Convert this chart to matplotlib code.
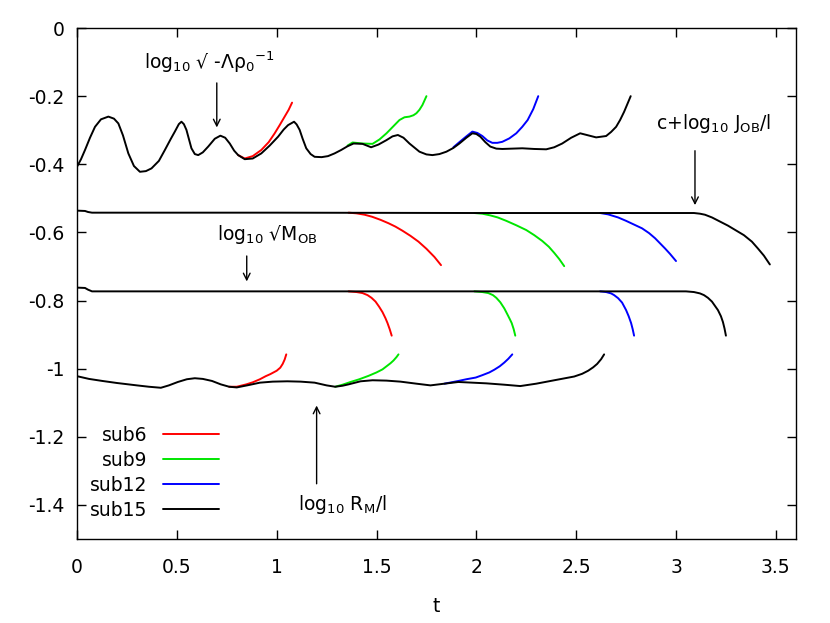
import numpy as np
import matplotlib
matplotlib.use("Agg")
import matplotlib.pyplot as plt

plt.rcParams['font.family'] = ['DejaVu Sans']
plt.rcParams['mathtext.default'] = 'regular'

# top curve: log10 sqrt(-Lambda rho0^-1)
topT15 = [0.0, 0.02, 0.04, 0.065, 0.09, 0.12, 0.157, 0.185, 0.207, 0.23, 0.257, 0.285, 0.315, 0.345, 0.373,
          0.41, 0.44, 0.47, 0.49, 0.51, 0.523, 0.535, 0.548, 0.56, 0.573, 0.59, 0.607, 0.63, 0.657, 0.69,
          0.718, 0.742, 0.765, 0.787, 0.807, 0.84, 0.88, 0.923, 0.965, 1.007, 1.035, 1.057, 1.087, 1.10, 1.115,
          1.13, 1.148, 1.17, 1.19, 1.225, 1.257, 1.29, 1.323, 1.355, 1.385, 1.43, 1.473, 1.51, 1.55, 1.58,
          1.607, 1.635, 1.665, 1.715, 1.75, 1.78, 1.815, 1.85, 1.885, 1.915, 1.95, 1.98, 2.0, 2.02, 2.045,
          2.07, 2.1, 2.13, 2.18, 2.23, 2.29, 2.35, 2.39, 2.43, 2.475, 2.52, 2.56, 2.6, 2.65, 2.675,
          2.70, 2.72, 2.74, 2.773]
topY15 = [-0.407, -0.385, -0.358, -0.322, -0.29, -0.268, -0.260, -0.266, -0.28, -0.315, -0.368, -0.405, -0.422, -0.42, -0.412,
          -0.39, -0.358, -0.325, -0.304, -0.282, -0.275, -0.282, -0.299, -0.325, -0.353, -0.37, -0.373, -0.365, -0.348, -0.325,
          -0.316, -0.322, -0.339, -0.36, -0.373, -0.385, -0.383, -0.368, -0.345, -0.319, -0.298, -0.285, -0.275, -0.283, -0.299,
          -0.325, -0.353, -0.37, -0.378, -0.379, -0.376, -0.368, -0.358, -0.347, -0.339, -0.34, -0.35, -0.342, -0.329, -0.318,
          -0.314, -0.322, -0.339, -0.363, -0.371, -0.373, -0.37, -0.363, -0.352, -0.339, -0.322, -0.309, -0.311, -0.319, -0.335,
          -0.348, -0.354, -0.355, -0.354, -0.353, -0.355, -0.356, -0.35, -0.339, -0.322, -0.309, -0.315, -0.321, -0.317, -0.305,
          -0.29, -0.27, -0.246, -0.20]
topT6 = [0.807, 0.84, 0.88, 0.923, 0.96, 0.99, 1.015, 1.04, 1.06, 1.077]
topY6 = [-0.373, -0.383, -0.376, -0.358, -0.335, -0.309, -0.285, -0.26, -0.24, -0.219]
topT9 = [1.355, 1.38, 1.43, 1.48, 1.515, 1.55, 1.585, 1.615, 1.64, 1.665, 1.685, 1.70, 1.715, 1.73, 1.75]
topY9 = [-0.345, -0.336, -0.339, -0.34, -0.327, -0.309, -0.288, -0.27, -0.262, -0.26, -0.256, -0.25, -0.24, -0.226, -0.20]
topT12 = [1.885, 1.915, 1.95, 1.98, 2.005, 2.03, 2.055, 2.08, 2.105, 2.13, 2.165, 2.2, 2.23, 2.257, 2.285, 2.31]
topY12 = [-0.35, -0.335, -0.318, -0.304, -0.308, -0.317, -0.33, -0.337, -0.337, -0.334, -0.324, -0.309, -0.29, -0.27, -0.238, -0.20]

# c + log10 J_OB / l
jT15 = [0.0, 0.04, 0.055, 0.075, 1.0, 2.0, 3.0, 3.09, 3.12, 3.145, 3.18, 3.22, 3.26, 3.30, 3.34, 3.38, 3.41, 3.44, 3.47]
jY15 = [-0.536, -0.537, -0.54, -0.542, -0.542, -0.543, -0.543, -0.543, -0.545, -0.548, -0.556, -0.568, -0.58, -0.594,
        -0.608, -0.627, -0.647, -0.668, -0.694]
jT6 = [1.36, 1.40, 1.44, 1.478, 1.52, 1.56, 1.595, 1.63, 1.67, 1.71, 1.75, 1.79, 1.823]
jY6 = [-0.542, -0.544, -0.548, -0.554, -0.563, -0.573, -0.583, -0.595, -0.61, -0.627, -0.648, -0.672, -0.696]
jT9 = [1.99, 2.03, 2.07, 2.107, 2.15, 2.20, 2.25, 2.29, 2.33, 2.363, 2.39, 2.415, 2.44]
jY9 = [-0.543, -0.545, -0.55, -0.556, -0.566, -0.579, -0.593, -0.608, -0.625, -0.642, -0.66, -0.678, -0.699]
jT12 = [2.62, 2.66, 2.71, 2.75, 2.79, 2.83, 2.865, 2.895, 2.92, 2.945, 2.97, 3.0]
jY12 = [-0.543, -0.547, -0.556, -0.566, -0.577, -0.588, -0.602, -0.617, -0.632, -0.647, -0.663, -0.684]

# log10 sqrt(M_OB)
mT15 = [0.0, 0.04, 0.055, 0.075, 1.0, 2.0, 3.05, 3.09, 3.12, 3.14, 3.16, 3.18, 3.21, 3.225, 3.235, 3.243, 3.25]
mY15 = [-0.762, -0.763, -0.768, -0.773, -0.773, -0.773, -0.773, -0.775, -0.779, -0.784, -0.792, -0.803, -0.828,
        -0.846, -0.863, -0.882, -0.903]
mT6 = [1.36, 1.40, 1.43, 1.455, 1.475, 1.495, 1.513, 1.53, 1.545, 1.555, 1.566, 1.576]
mY6 = [-0.773, -0.775, -0.778, -0.784, -0.792, -0.803, -0.818, -0.834, -0.852, -0.866, -0.884, -0.903]
mT9 = [1.99, 2.03, 2.06, 2.083, 2.10, 2.12, 2.14, 2.155, 2.168, 2.177, 2.187, 2.195]
mY9 = [-0.773, -0.775, -0.778, -0.784, -0.792, -0.805, -0.823, -0.84, -0.855, -0.866, -0.884, -0.903]
mT12 = [2.62, 2.65, 2.675, 2.69, 2.71, 2.73, 2.75, 2.763, 2.775, 2.783, 2.79]
mY12 = [-0.773, -0.775, -0.779, -0.784, -0.793, -0.806, -0.828, -0.846, -0.866, -0.884, -0.903]

# log10 R_M / l
rT15 = [0.0, 0.06, 0.127, 0.2, 0.30, 0.36, 0.42, 0.46, 0.505, 0.55, 0.59, 0.63, 0.676, 0.72, 0.762,
        0.80, 0.86, 0.916, 0.98, 1.053, 1.12, 1.19, 1.25, 1.293, 1.33, 1.36, 1.42, 1.48, 1.55, 1.62,
        1.70, 1.77, 1.84, 1.91, 1.98, 2.05, 2.14, 2.22, 2.30, 2.39, 2.49, 2.53, 2.56, 2.585, 2.605,
        2.625, 2.64]
rY15 = [-1.022, -1.03, -1.036, -1.042, -1.049, -1.053, -1.056, -1.049, -1.039, -1.031, -1.028, -1.03, -1.036, -1.046, -1.053,
        -1.055, -1.048, -1.041, -1.038, -1.037, -1.038, -1.041, -1.049, -1.053, -1.05, -1.046, -1.037, -1.034, -1.035, -1.038,
        -1.044, -1.049, -1.044, -1.039, -1.041, -1.043, -1.047, -1.051, -1.044, -1.034, -1.023, -1.015, -1.006, -0.996, -0.986,
        -0.972, -0.958]
rT6 = [0.762, 0.80, 0.848, 0.88, 0.916, 0.945, 0.968, 1.0, 1.018, 1.03, 1.04, 1.048]
rY6 = [-1.053, -1.053, -1.046, -1.04, -1.031, -1.022, -1.016, -1.006, -0.997, -0.986, -0.973, -0.958]
rT9 = [1.293, 1.33, 1.37, 1.414, 1.46, 1.5, 1.53, 1.55, 1.57, 1.585, 1.60, 1.61]
rY9 = [-1.053, -1.047, -1.039, -1.031, -1.021, -1.011, -1.002, -0.993, -0.984, -0.976, -0.966, -0.958]
rT12 = [1.84, 1.91, 1.95, 1.997, 2.03, 2.065, 2.09, 2.117, 2.14, 2.16, 2.18]
rY12 = [-1.044, -1.036, -1.031, -1.026, -1.019, -1.011, -1.003, -0.993, -0.982, -0.971, -0.958]

runs = ['sub6', 'sub9', 'sub12', 'sub15']
colors = ['#ff0000', '#00e600', '#0000ff', '#000000']

fig = plt.figure(figsize=(8.3, 6.23), dpi=100)
ax = fig.add_axes([0.0928, 0.1348, 0.866, 0.8202])

groups = [
    [(topT6, topY6), (topT9, topY9), (topT12, topY12), (topT15, topY15)],
    [(jT6, jY6), (jT9, jY9), (jT12, jY12), (jT15, jY15)],
    [(mT6, mY6), (mT9, mY9), (mT12, mY12), (mT15, mY15)],
    [(rT6, rY6), (rT9, rY9), (rT12, rY12), (rT15, rY15)],
]
handles = []
for gi, g in enumerate(groups):
    for i, (t, y) in enumerate(g):
        ln, = ax.plot(t, y, color=colors[i], lw=1.4, zorder=2 + i,
                      solid_joinstyle='round', solid_capstyle='round')
        if gi == 0:
            handles.append(ln)

ax.legend(handles, runs, loc='lower left', bbox_to_anchor=(-0.005, 0.005), frameon=False,
          markerfirst=False, handlelength=3.0, labelspacing=0.32, fontsize=13.5, handletextpad=0.8)

akw = dict(arrowstyle='->', color='black', lw=1.0, mutation_scale=12)
fs = 13.5
ax.annotate('', xy=(0.70, -0.30), xytext=(0.70, -0.153), arrowprops=akw)
ax.text(0.665, -0.10, 'log$_{10}$ √ -Λρ$_0$$^{-1}$', fontsize=fs, ha='center', va='center')
ax.annotate('', xy=(3.095, -0.528), xytext=(3.095, -0.352), arrowprops=akw)
ax.text(3.19, -0.28, 'c+log$_{10}$ J$_{OB}$/l', fontsize=fs, ha='center', va='center')
ax.annotate('', xy=(0.85, -0.752), xytext=(0.85, -0.661), arrowprops=akw)
ax.text(0.955, -0.606, 'log$_{10}$ √M$_{OB}$', fontsize=fs, ha='center', va='center')
ax.annotate('', xy=(1.2, -1.10), xytext=(1.2, -1.346), arrowprops=akw)
ax.text(1.33, -1.40, 'log$_{10}$ R$_M$/l', fontsize=fs, ha='center', va='center')

ax.set_xlim(0, 3.6)
ax.set_ylim(-1.5, 0)
ax.set_xticks([0, 0.5, 1, 1.5, 2, 2.5, 3, 3.5])
ax.set_xticklabels(['0', '0.5', '1', '1.5', '2', '2.5', '3', '3.5'])
ax.set_yticks([0, -0.2, -0.4, -0.6, -0.8, -1, -1.2, -1.4])
ax.set_yticklabels(['0', '-0.2', '-0.4', '-0.6', '-0.8', '-1', '-1.2', '-1.4'])
ax.tick_params(direction='in', length=6.5, width=1, top=True, right=True, labelsize=13.5)
ax.tick_params(axis='x', pad=14)
ax.tick_params(axis='y', pad=9)
ax.set_xlabel('t', fontsize=13.5, labelpad=14)
for s in ax.spines.values():
    s.set_linewidth(1.0)

fig.savefig('out.png', dpi=100)
